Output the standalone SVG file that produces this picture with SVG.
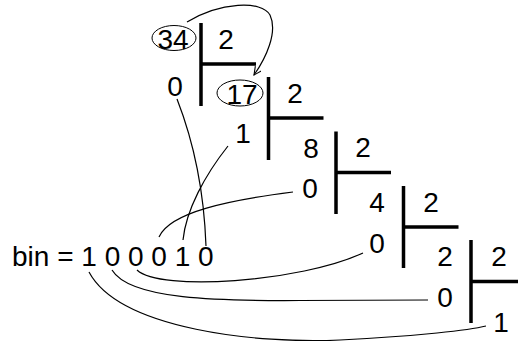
<svg xmlns="http://www.w3.org/2000/svg" width="518" height="341" viewBox="0 0 518 341">
<style>
text{font-family:"Liberation Sans",Arial,sans-serif;font-size:28px;fill:#000}
.c{text-anchor:middle}
.bar{stroke:#000;stroke-width:3.5;fill:none}
.wire{stroke:#000;stroke-width:1.2;fill:none}
.ring{stroke:#000;stroke-width:1;fill:none}
</style>
<defs>
<marker id="ah" markerWidth="10" markerHeight="10" refX="8" refY="4" orient="auto" markerUnits="userSpaceOnUse">
<path d="M0,0 L8,4 L0,8" fill="none" stroke="#000" stroke-width="1.1"/>
</marker>
</defs>
<rect width="518" height="341" fill="#fff"/>
<g id="stage1">
<path class="bar" d="M201,23 V106 M201,64 H256"/>
<ellipse class="ring" cx="174" cy="38" rx="22" ry="12.5"/>
<text class="c" x="173" y="49">34</text>
<text class="c" x="226" y="49">2</text>
<text class="c" x="175" y="96">0</text>
</g>
<g id="stage2">
<path class="bar" d="M268.5,77 V160 M268.5,118 H323.5"/>
<ellipse class="ring" cx="240" cy="93" rx="23" ry="13"/>
<text class="c" x="242" y="104">17</text>
<text class="c" x="295" y="103">2</text>
<text class="c" x="243" y="143">1</text>
</g>
<g id="stage3">
<path class="bar" d="M336,131.5 V214 M336,172.5 H391"/>
<text class="c" x="311" y="158">8</text>
<text class="c" x="363" y="157">2</text>
<text class="c" x="310" y="198">0</text>
</g>
<g id="stage4">
<path class="bar" d="M403.5,186 V268 M403.5,227 H458.5"/>
<text class="c" x="377" y="212">4</text>
<text class="c" x="431" y="212">2</text>
<text class="c" x="377" y="253">0</text>
</g>
<g id="stage5">
<path class="bar" d="M471,240 V323 M471,281.5 H518"/>
<text class="c" x="445" y="266">2</text>
<text class="c" x="499" y="266">2</text>
<text class="c" x="445" y="307">0</text>
<text class="c" x="501" y="332">1</text>
</g>
<g id="result">
<text x="12" y="266">bin = 1 0 0 0 1 0</text>
</g>
<g id="connectors">
<path class="wire" d="M187,22 C220,2 262,0 270,15 C278,32 266,58 254,75" marker-end="url(#ah)"/>
<path class="wire" d="M177,99 C193,140 204,190 206,246"/>
<path class="wire" d="M228,146 C205,175 186,210 183,240"/>
<path class="wire" d="M293,192 C230,200 170,212 159,237"/>
<path class="wire" d="M137,270 C160,292 300,282 363,253"/>
<path class="wire" d="M112,270 C130,300 220,301 300,300.5 Q380,300 428,300"/>
<path class="wire" d="M89,272 C120,330 260,344 340,340 C420,336 470,330 486,326"/>
</g>
</svg>
